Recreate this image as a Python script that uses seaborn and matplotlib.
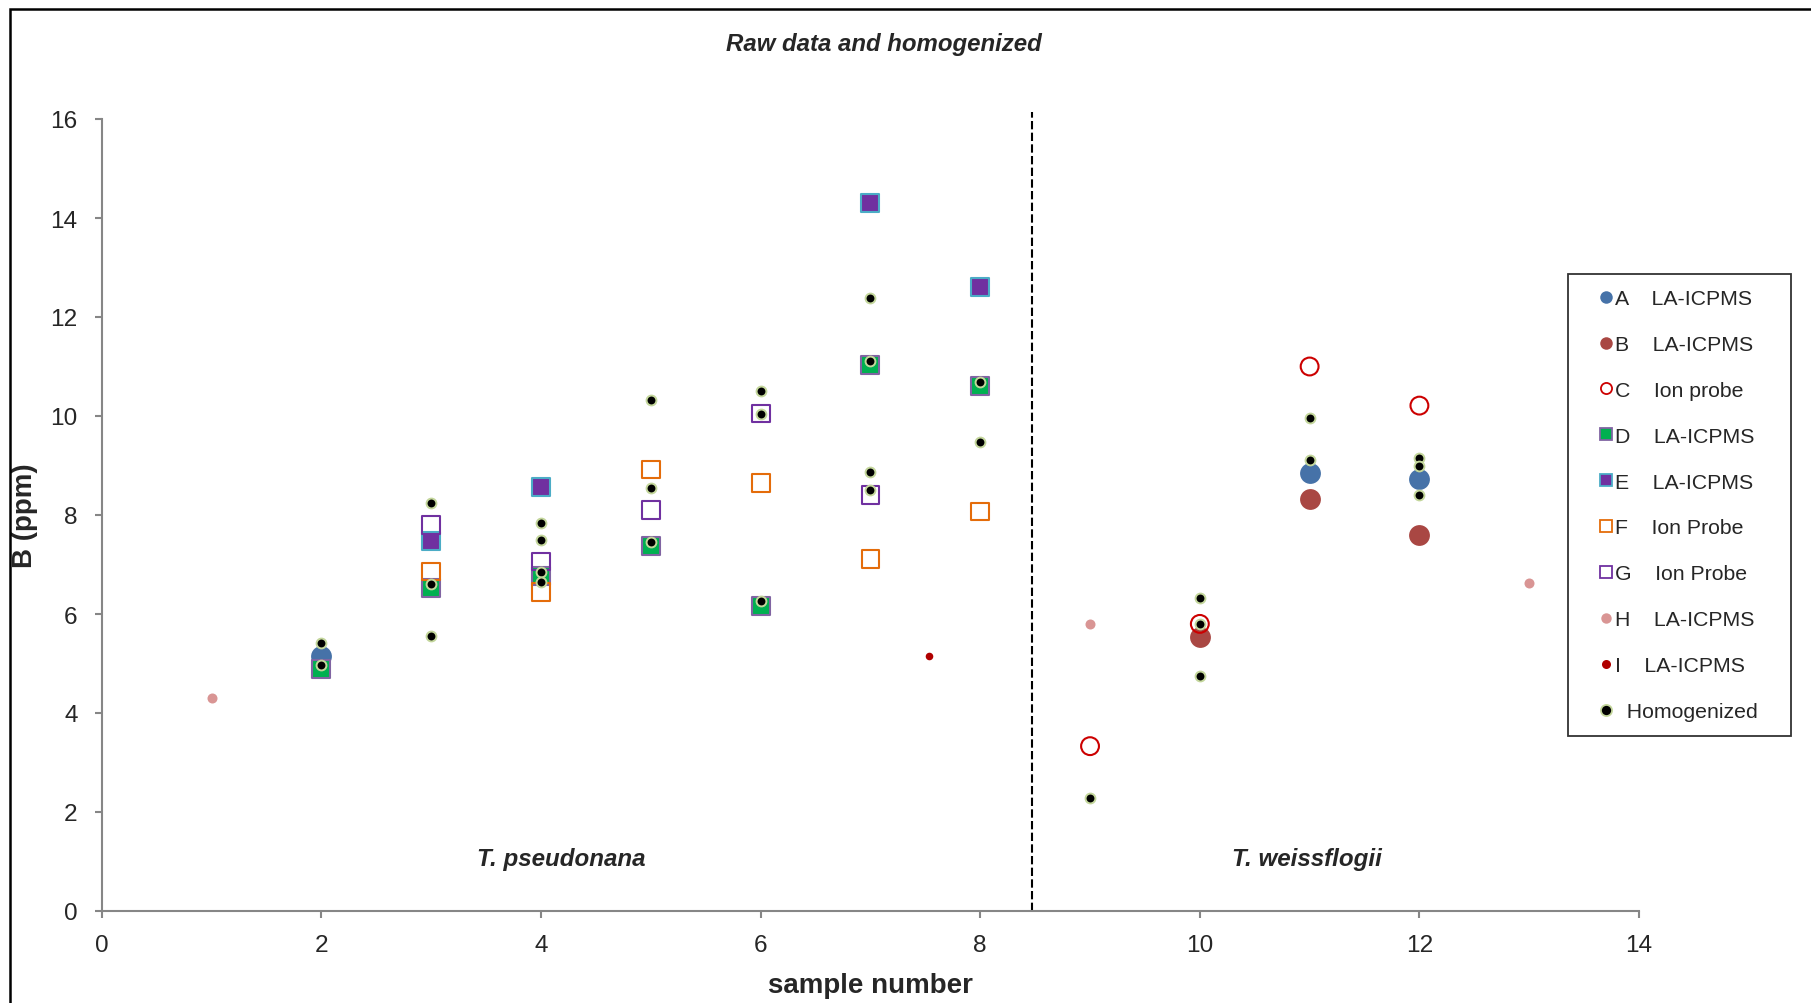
import numpy as np
import pandas as pd
import matplotlib
matplotlib.use("Agg")
import matplotlib.pyplot as plt
from matplotlib.lines import Line2D
from matplotlib.patches import Rectangle
import seaborn as sns

# ---------------- data ----------------
A_x = [2, 11, 12]
A_y = [5.16, 8.84, 8.72]
B_x = [10, 11, 12]
B_y = [5.54, 8.33, 7.60]
C_x = [9, 10, 11, 12]
C_y = [3.33, 5.80, 11.00, 10.21]
D_x = [2, 3, 4, 5, 6, 7, 8]
D_y = [4.89, 6.52, 6.77, 7.37, 6.16, 11.03, 10.61]
E_x = [3, 4, 7, 8]
E_y = [7.48, 8.57, 14.31, 12.60]
F_x = [3, 4, 5, 6, 7, 8]
F_y = [6.86, 6.44, 8.92, 8.65, 7.11, 8.07]
G_x = [3, 4, 5, 6, 7]
G_y = [7.80, 7.06, 8.10, 10.05, 8.40]
H_x = [1, 9, 13]
H_y = [4.30, 5.80, 6.63]
I_x = [7.53]
I_y = [5.15]
Hom_x = [2, 2, 3, 3, 3, 4, 4, 4, 4, 5, 5, 5, 6, 6, 6, 7, 7, 7, 7, 8, 8,
         9, 10, 10, 10, 11, 11, 12, 12, 12]
Hom_y = [5.41, 4.97, 8.24, 6.61, 5.56, 7.83, 7.50, 6.85, 6.65, 10.32, 8.55, 7.46,
         10.50, 10.05, 6.26, 12.38, 11.12, 8.86, 8.51, 10.69, 9.47,
         2.28, 6.33, 5.79, 4.75, 9.95, 9.12, 9.16, 8.98, 8.40]

series_names = ["A", "B", "C", "D", "E", "F", "G", "H", "I", "Homogenized"]
legend_labels = ["A    LA-ICPMS", "B    LA-ICPMS", "C    Ion probe", "D    LA-ICPMS",
                 "E    LA-ICPMS", "F    Ion Probe", "G    Ion Probe", "H    LA-ICPMS",
                 "I    LA-ICPMS", "  Homogenized"]
xs = [A_x, B_x, C_x, D_x, E_x, F_x, G_x, H_x, I_x, Hom_x]
ys = [A_y, B_y, C_y, D_y, E_y, F_y, G_y, H_y, I_y, Hom_y]

x_ticks = [0, 2, 4, 6, 8, 10, 12, 14]
y_ticks = [0, 2, 4, 6, 8, 10, 12, 14, 16]
divider_x = 8.47
divider_top = 16.14

df = pd.concat([pd.DataFrame({"sample": x, "B": y, "series": n})
                for n, x, y in zip(series_names, xs, ys)], ignore_index=True)

# ---------------- styles ----------------
styles = {
    "A": dict(marker="o", s=225, face="#4672A8", edge="#4672A8", lw=0),
    "B": dict(marker="o", s=225, face="#A94743", edge="#A94743", lw=0),
    "C": dict(marker="o", s=165, face="none", edge="#CC0000", lw=1.5),
    "D": dict(marker="s", s=165, face="#00B050", edge="#8064A2", lw=1.5),
    "E": dict(marker="s", s=165, face="#7030A0", edge="#4BACC6", lw=1.5),
    "F": dict(marker="s", s=165, face="none", edge="#E46C0A", lw=1.5),
    "G": dict(marker="s", s=165, face="none", edge="#7030A0", lw=1.5),
    "H": dict(marker="o", s=52, face="#D99594", edge="#D99594", lw=0),
    "I": dict(marker="o", s=30, face="#B00000", edge="#B00000", lw=0),
    "Homogenized": dict(marker="o", s=50, face="black", edge="#C3D69B", lw=1.4),
}
leg_sizes = {"A": 9, "B": 9, "C": 8, "D": 8, "E": 8, "F": 8, "G": 8,
             "H": 7.5, "I": 6.5, "Homogenized": 8}

sns.set_style("white")
plt.rcParams["font.family"] = ["Liberation Sans", "DejaVu Sans"]

fig = plt.figure(figsize=(18.11, 10.04), dpi=100)
ax = fig.add_axes([101.9 / 1811, 1 - 912 / 1004, (1639 - 101.9) / 1811, (912 - 120) / 1004])

for i, name in enumerate(series_names):
    st = styles[name]
    sub = df[df["series"] == name]
    sns.scatterplot(data=sub, x="sample", y="B", ax=ax, marker=st["marker"], s=st["s"],
                    color=st["edge"], facecolor=st["face"], edgecolor=st["edge"],
                    linewidth=st["lw"], legend=False, zorder=3 + i)

ax.plot([divider_x, divider_x], [0, divider_top], color="black", lw=1.5,
        dashes=(4, 1.6), clip_on=False, zorder=2)

ax.set_xlim(0, 14)
ax.set_ylim(0, 16)
ax.set_xticks(x_ticks)
ax.set_yticks(y_ticks)
ax.tick_params(axis="both", which="major", direction="out", length=5, width=1.5,
               color="#868686", labelsize=17.6, left=True, bottom=True)
ax.tick_params(axis="y", pad=12.5)
ax.tick_params(axis="x", pad=11.5)
for side in ["top", "right"]:
    ax.spines[side].set_visible(False)
for side in ["left", "bottom"]:
    ax.spines[side].set_color("#868686")
    ax.spines[side].set_linewidth(1.5)
ax.set_facecolor("white")
ax.grid(False)

ax.set_xlabel("sample number", fontsize=20, fontweight="bold", va="center")
ax.xaxis.set_label_coords(0.5, (912 - 986) / 792)
ax.set_ylabel("B (ppm)", fontsize=20, fontweight="bold", va="center")
ax.yaxis.set_label_coords((25 - 101.9) / 1537.1, 0.5)

ax.text(4.18, 1.07, "T. pseudonana", fontsize=17.4, fontweight="bold", fontstyle="italic",
        ha="center", va="center")
ax.text(10.98, 1.07, "T. weissflogii", fontsize=17.4, fontweight="bold", fontstyle="italic",
        ha="center", va="center")

fig.text(883.6 / 1811, 1 - 44.5 / 1004, "Raw data and homogenized", fontsize=17.3,
         fontweight="bold", fontstyle="italic", ha="center", va="center")

# figure frame
fig.patches.append(Rectangle((9.5 / 1811, -0.2), 1.2, 1.2 - 9.5 / 1004, transform=fig.transFigure,
                             fill=False, edgecolor="black", lw=1.8))

handles = []
for name in series_names:
    st = styles[name]
    handles.append(Line2D([], [], linestyle="none", marker=st["marker"],
                          markersize=leg_sizes[name],
                          markerfacecolor=st["face"], markeredgecolor=st["edge"],
                          markeredgewidth=min(st["lw"], 1.3) if st["lw"] else 0))

leg = fig.legend(handles, legend_labels, loc="upper left",
                 bbox_to_anchor=(1568 / 1811, 1 - 275 / 1004, (1791 - 1568) / 1811, 0.0),
                 mode="expand", borderaxespad=0, fontsize=15.3, frameon=True,
                 fancybox=False, edgecolor="black", borderpad=0.71, labelspacing=1.265,
                 handlelength=2.16, handletextpad=-0.66)
leg.get_frame().set_linewidth(1.3)

fig.savefig("out.png", dpi=100)
